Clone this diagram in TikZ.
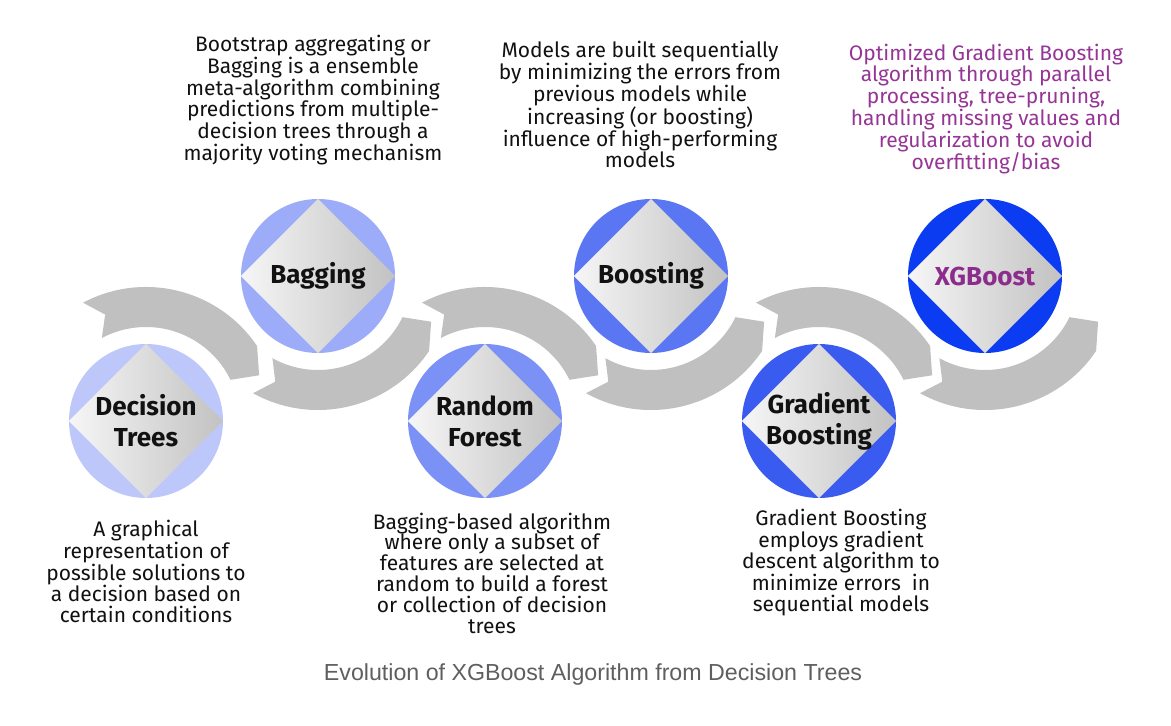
\documentclass[tikz,border=0pt]{standalone}
\usepackage{fontspec}
\setmainfont{Fira Sans}
\newfontfamily\capfont{Liberation Sans}
\usetikzlibrary{calc}
\definecolor{arcgray}{HTML}{C0C0C0}
\definecolor{cA}{HTML}{BDC7FA}
\definecolor{cB}{HTML}{9DACF8}
\definecolor{cC}{HTML}{7B91F5}
\definecolor{cD}{HTML}{5A76F3}
\definecolor{cE}{HTML}{3A5BF0}
\definecolor{cF}{HTML}{0B3CF2}
\definecolor{diamL}{HTML}{F6F6F6}
\definecolor{diamR}{HTML}{C2C2C2}
\definecolor{txt}{HTML}{111111}
\definecolor{purp}{HTML}{963596}
\definecolor{purpT}{HTML}{8C2C8C}
\definecolor{capgray}{HTML}{5F5F5F}
\newcommand\caparc[1]{%
  \fill[arcgray] ($(#1)+(118:134pt)$) arc[start angle=118,end angle=34,radius=134pt]
    -- ($(#1)+(22:122pt)$) -- ($(#1)+(26:94pt)$)
    arc[start angle=26,end angle=118,radius=94pt]
    -- ($(#1)+(111:114pt)$) -- cycle;}
\newcommand\cuparc[1]{%
  \fill[arcgray] ($(#1)+(241:134pt)$) arc[start angle=241,end angle=326,radius=134pt]
    -- ($(#1)+(338:122pt)$) -- ($(#1)+(334:94pt)$)
    arc[start angle=334,end angle=241,radius=94pt]
    -- ($(#1)+(248:114pt)$) -- cycle;}
\newcommand\diam[1]{%
  \shade[left color=diamL,right color=diamR] (#1.north) -- (#1.east) -- (#1.south) -- (#1.west) -- cycle;}
\tikzset{
  disc/.style={circle,inner sep=0pt,minimum size=154pt},
  title/.style={align=center,text=txt,font=\fontsize{26}{31}\selectfont\bfseries},
  desc/.style={align=center,text=txt,font=\fontsize{21}{20.8}\selectfont},
  capt/.style={text=capgray,font=\capfont\fontsize{23.2}{26}\selectfont}
}
\begin{document}
\begin{tikzpicture}[x=1pt,y=1pt]
\useasboundingbox (0,0) rectangle (1171,726);
\fill[white] (0,0) rectangle (1171,726);
\coordinate (cdt) at (146,305);
\coordinate (cbg) at (318,450);
\coordinate (crf) at (485,305);
\coordinate (cbo) at (651,450);
\coordinate (cgb) at (819,305);
\coordinate (cxg) at (985,450);
\caparc{cdt}
\cuparc{cbg}
\caparc{crf}
\cuparc{cbo}
\caparc{cgb}
\cuparc{cxg}
\node[disc,fill=cA] (dt) at (cdt) {};
\node[disc,fill=cB] (bg) at (cbg) {};
\node[disc,fill=cC] (rf) at (crf) {};
\node[disc,fill=cD] (bo) at (cbo) {};
\node[disc,fill=cE] (gb) at (cgb) {};
\node[disc,fill=cF] (xg) at (cxg) {};
\diam{dt}\diam{bg}\diam{rf}\diam{bo}\diam{gb}\diam{xg}
\node[title] (dtt) at (dt) {Decision\\Trees};
\node[title] (bgt) at (bg) {Bagging};
\node[title] (rft) at (rf) {Random\\Forest};
\node[title] (bot) at (bo) {Boosting};
\node[title] (gbt) at (gb) {Gradient\\Boosting};
\node[title,text=purpT] (xgt) at (xg) {XGBoost};
\node[desc] (dtd) at (146,154.5) {A graphical\\representation of\\possible solutions to\\a decision based on\\certain conditions};
\node[desc] (bgd) at (313,626) {Bootstrap aggregating or\\Bagging is a ensemble\\meta-algorithm combining\\predictions from multiple-\\decision trees through a\\majority voting mechanism};
\node[desc] (rfd) at (492,153) {Bagging-based algorithm\\where only a subset of\\features are selected at\\random to build a forest\\or collection of decision\\trees};
\node[desc] (bod) at (640,621.5) {Models are built sequentially\\by minimizing the errors from\\previous models while\\increasing (or boosting)\\influence of high-performing\\models};
\node[desc] (gbd) at (841,163.5) {Gradient Boosting\\employs gradient\\descent algorithm to\\minimize errors\ \ in\\sequential models};
\node[desc,text=purp] (xgd) at (986,617) {Optimized Gradient Boosting\\algorithm through parallel\\processing, tree-pruning,\\handling missing values and\\regularization to avoid\\overfitting/bias};
\node[capt] (cap) at (593,51) {Evolution of XGBoost Algorithm from Decision Trees};
\end{tikzpicture}
\end{document}
